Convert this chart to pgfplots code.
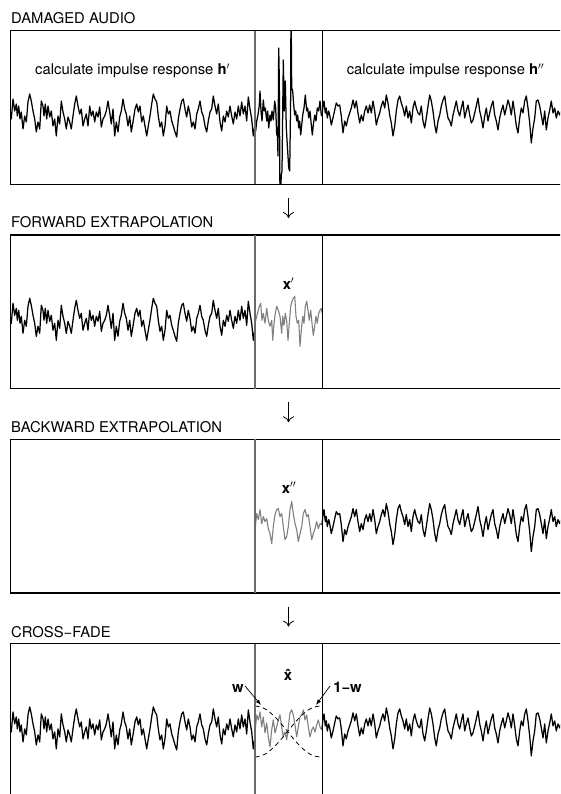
\documentclass[border=0pt]{standalone}
\usepackage{pgfplots}
\pgfplotsset{compat=1.18}
\usepackage{pgfplotstable}
\usetikzlibrary{arrows.meta}
\usepackage{fontspec}
\setmainfont{TeX Gyre Heros}

\definecolor{extrap}{gray}{0.5}
\definecolor{bound}{gray}{0.42}

% undamaged signal before the gap
\pgfplotstableread[row sep=\\]{
x y\\
10.7 -2\\ 11.3 -4\\ 13 16\\ 14.7 4\\ 16.3 11\\ 17.3 -1\\ 18.7 9\\ 20 -4\\ 21.3 3\\ 23 -14\\
24.7 -1\\ 26.3 -7\\ 28 13\\ 29.7 21\\ 31.3 14\\ 33 4\\ 34.7 -4\\ 36.3 -17\\ 38 -7\\ 39.7 -14\\
41.3 14\\ 43 9\\ 44 -1\\ 45.3 11\\ 46.7 -4\\ 48 9\\ 49.7 -2\\ 51.3 4\\ 53 -11\\ 54.7 -4\\
56.3 -21\\ 58 -1\\ 59.7 -9\\ 61.3 14\\ 63 3\\ 64.7 -4\\ 66.3 -14\\ 68 -2\\ 69.7 -7\\ 71.3 -14\\
73 -1\\ 74.7 11\\ 76.3 19\\ 78 9\\ 79.7 1\\ 81.3 6\\ 83 -11\\ 84.7 -4\\ 86.3 1\\ 88 -11\\
89.7 9\\ 91.3 -1\\ 93 4\\ 94.7 -7\\ 96.3 3\\ 98 -2\\ 99.7 8\\ 101.3 -12\\ 103 -4\\ 104.7 -1\\
106.3 4\\ 108 14\\ 109.7 3\\ 111.3 -9\\ 113 6\\ 114.7 -21\\ 116.3 -7\\ 118 -17\\ 119.7 -2\\ 121.3 4\\
123 16\\ 124.7 6\\ 126.3 1\\ 128 -11\\ 129.7 -1\\ 131.3 -17\\ 133 -7\\ 135 6\\ 136.7 11\\ 138.3 3\\
140 9\\ 141.7 -7\\ 143.3 -1\\ 145 -11\\ 146.7 -21\\ 148.3 -11\\ 150 -1\\ 151.7 11\\ 153.3 21\\ 155 16\\
156.7 13\\ 158.3 -1\\ 160 -12\\ 161.7 -7\\ 163.3 -21\\ 165 -11\\ 166.7 9\\ 168.3 1\\ 170 4\\ 171.7 -6\\
173.3 -11\\ 175 -17\\ 176.7 -22\\ 178.3 -4\\ 180 6\\ 181.7 14\\ 183.3 16\\ 185 6\\ 186.7 -2\\ 188.3 9\\
190 1\\ 191.7 -12\\ 193.3 -7\\ 195 -14\\ 196.7 1\\ 198.3 6\\ 200 14\\ 201.7 3\\ 203.3 -1\\ 205 -11\\
206.7 -17\\ 208.3 -6\\ 210 3\\ 211.7 6\\ 213.3 19\\ 215 9\\ 216.7 1\\ 218.3 11\\ 220 -7\\ 221.7 -16\\
223.3 -1\\ 225 -7\\ 226.7 4\\ 228.3 -2\\ 230 9\\ 231.7 -1\\ 233.3 -9\\ 235 3\\ 236.7 -4\\ 238.3 9\\
240 -1\\ 241.7 13\\ 243.3 1\\ 245 9\\ 246.7 -6\\ 248.3 18\\ 250 6\\ 251.7 -4\\ 253.3 -21\\ 254.6 -12\\
}\leftsig

% undamaged signal after the gap
\pgfplotstableread[row sep=\\]{
x y\\
322 -1\\ 323 9\\ 324 14\\ 325.3 2\\ 326.3 7\\ 327.3 -3\\ 328.7 4\\ 329.7 0\\ 331.3 -10\\ 333 -3\\
334.7 5\\ 336.3 12\\ 338 9\\ 339.7 10\\ 341.3 -1\\ 343 -18\\ 344.7 -6\\ 346.3 -11\\ 348 -3\\ 349.7 2\\
351.3 7\\ 353 15\\ 354.7 7\\ 356.3 14\\ 358 2\\ 359.7 -8\\ 361.3 0\\ 363 -6\\ 364.7 4\\ 366.3 9\\
368 2\\ 369.7 10\\ 371.3 2\\ 373 14\\ 374.7 4\\ 376.3 -10\\ 378 -3\\ 379.7 2\\ 381.3 9\\ 383 14\\
384.7 7\\ 386.3 20\\ 388 12\\ 389.7 0\\ 391.3 -8\\ 393 -21\\ 394.7 -11\\ 396.3 4\\ 398 15\\ 399.7 19\\
401.3 12\\ 403 7\\ 404.7 -1\\ 406.3 9\\ 408 -3\\ 409.7 4\\ 411.3 -8\\ 413 7\\ 414.7 14\\ 416.3 7\\
418 2\\ 419.7 0\\ 421.3 9\\ 423 -6\\ 424.7 -13\\ 426.3 -3\\ 428 9\\ 429.7 20\\ 431.3 14\\ 433 4\\
434.7 -10\\ 436.3 -18\\ 438 -6\\ 439.7 0\\ 441.3 9\\ 443 15\\ 444.7 19\\ 446.3 7\\ 448 -3\\ 449.7 -6\\
451.3 -11\\ 453 0\\ 454.7 7\\ 456.3 14\\ 458 4\\ 459.7 -1\\ 461.3 7\\ 463 14\\ 464.7 -3\\ 466.3 4\\
468 10\\ 469.7 0\\ 471.3 -8\\ 473 -5\\ 474.7 2\\ 476.3 9\\ 478 17\\ 479.7 4\\ 481.3 -3\\ 483 -13\\
484.7 -1\\ 486.3 7\\ 488 -6\\ 489.7 2\\ 491.3 9\\ 493 14\\ 494.7 0\\ 496.3 -6\\ 498 -15\\ 499.7 -3\\
501.3 4\\ 503 10\\ 504.7 0\\ 506.3 7\\ 508 15\\ 509.7 9\\ 511.3 0\\ 513 14\\ 514.7 2\\ 516.3 -11\\
518 -18\\ 519.7 -3\\ 521.3 7\\ 523 2\\ 524.7 14\\ 526.3 19\\ 528 7\\ 529.7 -8\\ 531.3 -28\\ 533 -13\\
534.7 -3\\ 536.3 14\\ 538 15\\ 539.7 9\\ 541.3 0\\ 543 -10\\ 544.7 4\\ 546.3 -15\\ 548 -3\\ 549.7 5\\
551.3 14\\ 553 2\\ 554.7 7\\ 556.3 -3\\ 558 4\\ 559.7 0\\ 561.3 5\\ 563 -4\\
}\rightsig

% the click that damages the recording
\pgfplotstableread[row sep=\\]{
x y\\
254.6 -12\\ 255.7 -16\\ 256.7 -6\\ 258 0\\ 259.3 10\\ 260 24\\ 261 4\\ 262 -6\\ 263.3 15\\ 264.3 4\\
265.3 7\\ 266.7 -6\\ 267.7 4\\ 268.7 -13\\ 270 0\\ 271 -6\\ 272 4\\ 273.3 -5\\ 274.7 14\\ 275.7 7\\
276.7 -20\\ 277.3 -13\\ 278 -41\\ 278.7 67\\ 279.3 37\\ 280 -90\\ 281.3 -60\\ 282 -56\\ 283.3 55\\ 284.3 4\\
285.3 34\\ 286.3 -13\\ 287.3 -30\\ 288.7 -53\\ 289.7 -56\\ 290.7 20\\ 291 120\\ 291.7 27\\ 292.7 24\\ 293.7 10\\
294.7 0\\ 295.7 4\\ 296.7 -6\\ 297.7 0\\ 298.7 -13\\ 299.7 -6\\ 300.7 -20\\ 301.7 -10\\ 302.7 0\\ 304 7\\
305.3 20\\ 306.7 4\\ 307.7 7\\ 308.7 -3\\ 310 4\\ 311.3 -10\\ 312.3 -20\\ 313.3 -10\\ 314.7 0\\ 316 -6\\
317.3 7\\ 318.7 4\\ 320 14\\ 321.3 0\\ 322 -1\\
}\burst

% forward extrapolation x'
\pgfplotstableread[row sep=\\]{
x y\\
255 -4\\ 256.7 3\\ 259.3 13\\ 260.7 16\\ 262 -1\\ 263.3 6\\ 265 -4\\ 266.7 11\\ 268.3 -1\\ 270 -7\\
271.7 -1\\ 272.7 -21\\ 274 -4\\ 275.3 6\\ 276.7 13\\ 278.3 9\\ 280 3\\ 281.7 -14\\ 282.7 3\\ 284 -6\\
285.3 6\\ 286.7 -2\\ 288 -21\\ 289.3 -4\\ 290.7 13\\ 292 18\\ 293.3 21\\ 294.7 23\\ 296 3\\ 297.3 -4\\
298.7 -1\\ 300 -27\\ 301.3 -11\\ 302.7 3\\ 304 -4\\ 305.3 13\\ 306.7 18\\ 308 9\\ 309.3 -1\\ 310.7 9\\
312 -4\\ 313.3 -16\\ 314.7 -7\\ 316 3\\ 317.3 -4\\ 318.7 6\\ 320 9\\ 321.3 11\\ 322 6\\
}\xfwd

% backward extrapolation x''
\pgfplotstableread[row sep=\\]{
x y\\
255 -6\\ 256.7 10\\ 258.3 4\\ 260 14\\ 261.7 0\\ 263.3 7\\ 265 2\\ 266.7 5\\ 268.3 -5\\ 270 -10\\
271.7 -20\\ 273.3 -3\\ 275 9\\ 276.7 14\\ 278.3 15\\ 280 7\\ 281.7 10\\ 283.3 -3\\ 285 -16\\ 286.7 -13\\
288.3 -3\\ 290 14\\ 291.7 22\\ 293.3 10\\ 295 0\\ 296.7 -6\\ 298.3 -18\\ 300 -10\\ 301.7 -3\\ 303.3 10\\
305 14\\ 306.7 7\\ 308.3 9\\ 310 -3\\ 311.7 -16\\ 313.3 -10\\ 315 -5\\ 316.7 2\\ 318.3 -5\\ 320 0\\
321.7 -1\\ 322 -1\\
}\xbwd

% cross-faded reconstruction
\pgfplotstableread[row sep=\\]{
x y\\
255 -5\\ 256.7 13\\ 258.3 8\\ 260 16\\ 261.7 1\\ 263.3 11\\ 265 -5\\ 266.7 5\\ 268.3 -9\\ 270 -19\\
271.7 -2\\ 273.3 8\\ 275 -5\\ 276.7 1\\ 278.3 8\\ 280 13\\ 281.7 1\\ 283.3 -9\\ 285 -4\\ 286.7 -12\\
288.3 1\\ 290 15\\ 291.7 18\\ 293.3 13\\ 295 3\\ 296.7 -9\\ 298.3 1\\ 300 11\\ 301.7 13\\ 303.3 18\\
305 8\\ 306.7 13\\ 308.3 1\\ 310 -9\\ 311.7 -2\\ 313.3 1\\ 315 -4\\ 316.7 3\\ 318.3 8\\ 320 1\\
321.7 -2\\ 322 -1\\
}\xfade

% fade-out window w and fade-in window 1-w
\pgfplotstableread[row sep=\\]{
x y\\
255 21.9\\ 261.5 20.7\\ 268 17.1\\ 274.5 11.4\\ 281 4.3\\ 287.5 -3.6\\ 294 -11.5\\ 300.5 -18.6\\ 307 -24.3\\ 313.5 -27.9\\ 320 -29.1\\
}\winout
\pgfplotstableread[row sep=\\]{
x y\\
255 -29.1\\ 261.5 -27.9\\ 268 -24.3\\ 274.5 -18.6\\ 281 -11.5\\ 287.5 -3.6\\ 294 4.3\\ 300.5 11.4\\ 307 17.1\\ 313.5 20.7\\ 320 21.9\\
}\winin

\pgfplotsset{
  panel/.style={
    x=1pt, y=1pt,
    xmin=10.7, xmax=570, ymin=-69.3, ymax=84.3,
    axis line style={line width=1.2pt},
    xtick=\empty, ytick=\empty,
    anchor=north west,
  },
  sig/.style={black, line width=1.25pt, line join=round, no marks},
  ext/.style={extrap, line width=1.1pt, line join=round, no marks},
  gaplines/.style={
    execute at end axis={
      \draw[bound, line width=1.1pt] (axis cs:255,-69.3) -- (axis cs:255,84.3);
      \draw[black, line width=0.9pt] (axis cs:322,-69.3) -- (axis cs:322,84.3);
    }
  },
}

\begin{document}
\fontsize{14.8}{17}\selectfont
\begin{tikzpicture}[x=1pt, y=1pt]
\path[use as bounding box] (0,0) rectangle (560,-794);
\begin{scope}
\clip (0,0) rectangle (560,-794);

% damaged audio
\begin{axis}[panel, gaplines, at={(10.7pt,-30.7pt)}]
\addplot[sig] table {\leftsig};
\addplot[sig] table {\burst};
\addplot[sig] table {\rightsig};
\end{axis}

% forward extrapolation
\begin{axis}[panel, gaplines, at={(10.7pt,-235pt)}]
\addplot[sig] table {\leftsig};
\addplot[ext] table {\xfwd};
\end{axis}

% backward extrapolation
\begin{axis}[panel, gaplines, at={(10.7pt,-439.3pt)}]
\addplot[ext] table {\xbwd};
\addplot[sig] table {\rightsig};
\end{axis}

% cross-fade
\begin{axis}[panel, gaplines, at={(10.7pt,-643.6pt)}]
\addplot[sig] table {\leftsig};
\addplot[ext] table {\xfade};
\addplot[sig] table {\rightsig};
\addplot[black, line width=0.8pt, dash pattern=on 4.5pt off 3.5pt, smooth, no marks] table {\winout};
\addplot[black, line width=0.8pt, dash pattern=on 4.5pt off 3.5pt, smooth, no marks] table {\winin};
\end{axis}
\end{scope}

% panel titles
\node[anchor=base west, inner sep=0] at (11,-24) {DAMAGED AUDIO};
\node[anchor=base west, inner sep=0] at (11,-228) {FORWARD EXTRAPOLATION};
\node[anchor=base west, inner sep=0] at (11,-432.3) {BACKWARD EXTRAPOLATION};
\node[anchor=base west, inner sep=0] at (11,-637) {CROSS−FADE};

% annotations
\node[anchor=base, inner sep=0] at (132.5,-75) {calculate impulse response \textbf{h}$'$};
\node[anchor=base, inner sep=0] at (445.5,-75) {calculate impulse response \textbf{h}$''$};
\node[anchor=base, inner sep=0] at (288.5,-289) {\textbf{x}$'$};
\node[anchor=base, inner sep=0] at (289,-493) {\textbf{x}$''$};
\node[anchor=base, inner sep=0] at (288,-680) {\textbf{\^{x}}};
\node[anchor=base, inner sep=0] at (238,-692) {\textbf{w}};
\node[anchor=base, inner sep=0] at (347.5,-692) {\textbf{1−w}};
\draw[line width=0.7pt, -{Latex[length=5.5pt,width=4pt]}] (245,-686) -- (261,-705);
\draw[line width=0.7pt, -{Latex[length=5.5pt,width=4pt]}] (330,-686) -- (316,-705);

% flow arrows between the stages
\foreach \t in {235,439.3,643.6}
  \draw[line width=0.8pt, -{To[length=6pt,width=11pt]}] (288.5,-\t+37) -- (288.5,-\t+17);
\end{tikzpicture}
\end{document}
